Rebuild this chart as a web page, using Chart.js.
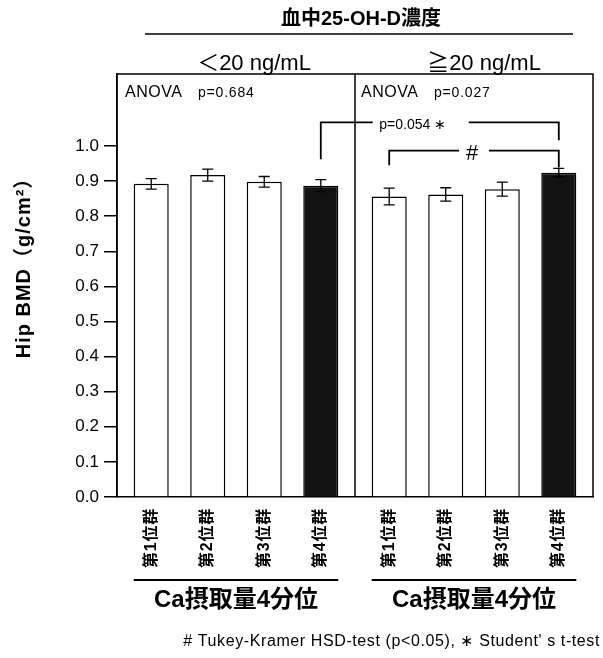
<!DOCTYPE html>
<html lang="ja">
<head>
<meta charset="utf-8">
<title>Hip BMD</title>
<script src="https://cdn.jsdelivr.net/npm/chart.js@4.4.1/dist/chart.umd.min.js"></script>
<style>
  html, body { margin: 0; padding: 0; background: #fff; }
  #wrap { width: 603px; height: 658px; position: relative; }
</style>
</head>
<body>
<div id="wrap"><canvas id="bmdChart"></canvas></div>
<script>
// Hip BMD by Ca intake quartile, split by serum 25-OH-D level

const groups = ['＜20 ng/mL', '≧20 ng/mL'];
const quartiles = ['第1位群', '第2位群', '第3位群', '第4位群'];
const groupLabel = 'Ca摂取量4分位';

// mean Hip BMD (g/cm2) per quartile, one value per 25-OH-D group
const q1 = [0.892, 0.856];
const q2 = [0.917, 0.862];
const q3 = [0.898, 0.877];
const q4 = [0.887, 0.924];

// standard errors
const se1 = [0.015, 0.024];
const se2 = [0.017, 0.019];
const se3 = [0.015, 0.020];
const se4 = [0.017, 0.012];

const anovaP = ['p=0.684', 'p=0.027'];

// significance brackets: [dataset, index] of both ends, heights in BMD units
const brackets = [
  { from: [3, 0], to: [3, 1], level: 1.067, legs: [0.962, 1.016], text: 'p=0.054 ∗', at: 0.42, gap: 48, dx: -8, size: 14 },
  { from: [0, 1], to: [3, 1], level: 0.987, legs: [0.945, 0.939], text: '#', at: 0.5, gap: 15, dx: -2, size: 22 }
];

const FONT = "'Liberation Sans', 'Noto Sans CJK JP', sans-serif";

let errors = [se1, se2, se3, se4];

function drawText(ctx, text, x, y, font, align, spacing) {
  ctx.font = font;
  ctx.textAlign = align || 'left';
  ctx.letterSpacing = (spacing || 0) + 'px';
  ctx.fillText(text, x, y);
  ctx.letterSpacing = '0px';
}

const extras = {
  id: 'extras',

  beforeDatasetsDraw(chart) {
    const { ctx, chartArea: a, scales: { x } } = chart;
    let mid = (x.getPixelForValue(0) + x.getPixelForValue(1)) / 2;
    ctx.save();
    ctx.strokeStyle = '#000';
    ctx.lineWidth = 1.5;
    ctx.beginPath();
    ctx.moveTo(a.left, a.bottom);
    ctx.lineTo(a.left, a.top);
    ctx.lineTo(a.right, a.top);
    ctx.lineTo(a.right, a.bottom);
    ctx.moveTo(mid, a.top);
    ctx.lineTo(mid, a.bottom);
    ctx.stroke();
    ctx.restore();
  },

  afterDatasetsDraw(chart) {
    const { ctx, scales: { y } } = chart;
    ctx.save();
    ctx.strokeStyle = '#000';

    // error bars
    ctx.lineWidth = 1.3;
    chart.data.datasets.forEach((ds, i) => {
      chart.getDatasetMeta(i).data.forEach((bar, j) => {
        let top = y.getPixelForValue(ds.data[j] + errors[i][j]);
        let bottom = y.getPixelForValue(ds.data[j] - errors[i][j]);
        ctx.beginPath();
        ctx.moveTo(bar.x, top);
        ctx.lineTo(bar.x, bottom);
        ctx.moveTo(bar.x - 5.5, top);
        ctx.lineTo(bar.x + 5.5, top);
        ctx.moveTo(bar.x - 5.5, bottom);
        ctx.lineTo(bar.x + 5.5, bottom);
        ctx.stroke();
      });
    });

    // brackets
    ctx.lineWidth = 1.8;
    ctx.fillStyle = '#000';
    ctx.textBaseline = 'middle';
    brackets.forEach(b => {
      let x1 = chart.getDatasetMeta(b.from[0]).data[b.from[1]].x;
      let x2 = chart.getDatasetMeta(b.to[0]).data[b.to[1]].x;
      let yl = y.getPixelForValue(b.level);
      let cx = x1 + (x2 - x1) * b.at;
      ctx.beginPath();
      ctx.moveTo(x1, y.getPixelForValue(b.legs[0]));
      ctx.lineTo(x1, yl);
      ctx.lineTo(cx - b.gap, yl);
      ctx.moveTo(cx + b.gap, yl);
      ctx.lineTo(x2, yl);
      ctx.lineTo(x2, y.getPixelForValue(b.legs[1]));
      ctx.stroke();
      drawText(ctx, b.text, cx + b.dx, yl + 3, b.size + 'px ' + FONT, 'center');
    });
    ctx.restore();
  },

  afterDraw(chart) {
    const { ctx, chartArea: a, scales: { x } } = chart;
    let mid = (x.getPixelForValue(0) + x.getPixelForValue(1)) / 2;
    ctx.save();
    ctx.fillStyle = '#000';
    ctx.strokeStyle = '#000';

    // headings above the plot
    ctx.textBaseline = 'middle';
    drawText(ctx, '血中25-OH-D濃度', 361, 19, 'bold 20px ' + FONT, 'center');
    ctx.lineWidth = 1.5;
    ctx.beginPath();
    ctx.moveTo(145, 34);
    ctx.lineTo(573, 34);
    ctx.stroke();
    drawText(ctx, groups[0], 254, 64, '22px ' + FONT, 'center');
    drawText(ctx, groups[1], 484, 64, '22px ' + FONT, 'center');

    // ANOVA results in each panel
    ctx.textBaseline = 'alphabetic';
    [a.left + 8, mid + 6].forEach((px, g) => {
      drawText(ctx, 'ANOVA', px, a.top + 23, '16px ' + FONT, 'left', 0.5);
      drawText(ctx, anovaP[g], px + 73, a.top + 23, '14px ' + FONT, 'left', 0.8);
    });

    // y axis title
    ctx.save();
    ctx.translate(24, 263);
    ctx.rotate(-Math.PI / 2);
    ctx.textBaseline = 'middle';
    drawText(ctx, 'Hip BMD（g/cm²）', 0, 0, 'bold 20px ' + FONT, 'center', 1);
    ctx.restore();

    // quartile names under each bar, read bottom to top
    ctx.textBaseline = 'middle';
    chart.data.datasets.forEach((ds, i) => {
      chart.getDatasetMeta(i).data.forEach(bar => {
        ctx.save();
        ctx.translate(bar.x, a.bottom + 11);
        ctx.rotate(-Math.PI / 2);
        drawText(ctx, quartiles[i], 0, 0, 'bold 16px ' + FONT, 'right', 0.8);
        ctx.restore();
      });
    });

    // line over each group label
    ctx.lineWidth = 1.8;
    groups.forEach((g, j) => {
      let first = chart.getDatasetMeta(0).data[j];
      let last = chart.getDatasetMeta(3).data[j];
      ctx.beginPath();
      ctx.moveTo(first.x - first.width / 2, a.bottom + 83);
      ctx.lineTo(last.x + last.width / 2, a.bottom + 83);
      ctx.stroke();
    });

    // footnote
    drawText(ctx, '# Tukey-Kramer HSD-test (p<0.05), ∗ Student\' s t-test', 600, 642, '16px ' + FONT, 'right', 0.6);
    ctx.restore();
  }
};

function barSet(label, values, fill) {
  return {
    label: label,
    data: values,
    backgroundColor: fill,
    borderColor: '#000',
    borderWidth: 1.5,
    categoryPercentage: 0.95,
    barPercentage: 0.62
  };
}

const ctx = document.getElementById('bmdChart');

const myChart = new Chart(ctx, {
  type: 'bar',
  data: {
    labels: groups,
    datasets: [
      barSet(quartiles[0], q1, '#fff'),
      barSet(quartiles[1], q2, '#fff'),
      barSet(quartiles[2], q3, '#fff'),
      barSet(quartiles[3], q4, '#121212')
    ]
  },
  options: {
    responsive: true,
    maintainAspectRatio: false,
    animation: false,
    layout: { padding: { top: 74, right: 10, left: 0, bottom: 0 } },
    plugins: {
      legend: { display: false },
      tooltip: { enabled: false }
    },
    scales: {
      x: {
        grid: { display: false, drawTicks: false },
        border: { display: true, color: '#000', width: 1.5 },
        ticks: {
          callback: () => groupLabel,
          color: '#000',
          padding: 89,
          font: { family: FONT, size: 24, weight: 'bold' }
        },
        // the big label padding would otherwise eat into the plot width
        afterFit: scale => {
          scale.height = 161;
          scale.paddingLeft = 0;
          scale.paddingRight = 0;
        }
      },
      y: {
        min: 0,
        max: 1.205,
        grid: {
          drawOnChartArea: false,
          tickLength: 13,
          lineWidth: 1.5,
          color: c => (c.tick && c.tick.value > 1.001 ? 'rgba(0,0,0,0)' : '#000')
        },
        border: { display: true, color: '#000', width: 1.5 },
        ticks: {
          stepSize: 0.1,
          padding: 5,
          color: '#000',
          font: { family: FONT, size: 17 },
          callback: v => (v > 1.001 ? '' : v.toFixed(1))
        },
        afterFit: scale => { scale.width = 117; }
      }
    }
  },
  plugins: [extras]
});
</script>
</body>
</html>
